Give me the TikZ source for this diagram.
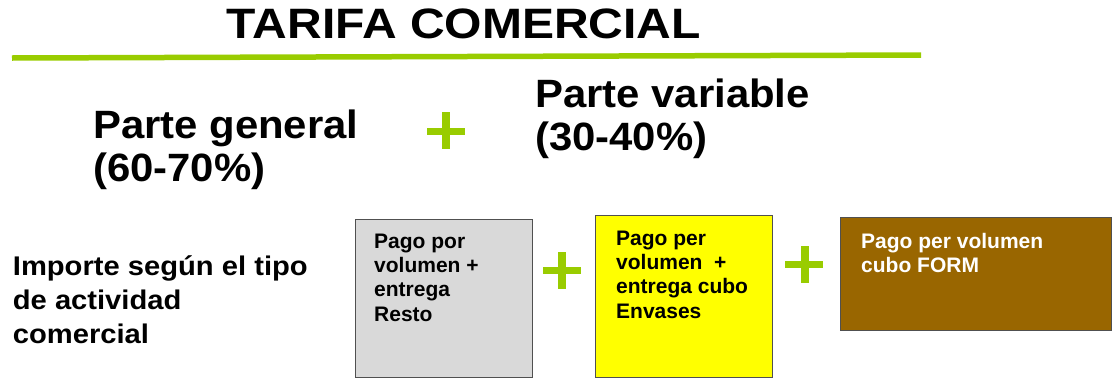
\documentclass[tikz,border=0pt]{standalone}
\usepackage{fontspec}
\setmainfont{Liberation Sans}
\newfontfamily\titlefont[FakeStretch=1.13]{Liberation Sans}
\newfontfamily\bigfont[FakeStretch=1.06]{Liberation Sans}
\newfontfamily\midfont[FakeStretch=1.08]{Liberation Sans}
\definecolor{lime}{RGB}{153,204,0}
\definecolor{boxgray}{RGB}{217,217,217}
\definecolor{boxyellow}{RGB}{255,255,0}
\definecolor{boxbrown}{RGB}{153,102,0}
\definecolor{edge}{RGB}{80,80,80}
\tikzset{
  txt/.style={inner sep=0pt, anchor=base west, align=left},
  titletxt/.style={txt, font=\titlefont\bfseries\fontsize{42.5}{46}\selectfont},
  bigtxt/.style={txt, font=\bigfont\bfseries\fontsize{39.5}{43}\selectfont},
  midtxt/.style={txt, font=\midfont\bfseries\fontsize{27}{34}\selectfont},
  boxtxt/.style={txt, font=\bfseries\fontsize{21}{24.3}\selectfont},
  card/.style={draw=edge, line width=1pt, anchor=north west, inner sep=0pt},
  plusbar/.style={fill=lime, draw=none},
}
\begin{document}
\begin{tikzpicture}[x=1pt,y=-1pt]
\useasboundingbox (0,0) rectangle (1114,378);
% title
\node[titletxt] (title) at (226.7,38.3) {TARIFA COMERCIAL};
\coordinate (lineL) at (12,58);
\coordinate (lineR) at (921,55);
\draw[lime, line width=5.5pt] (lineL) -- (lineR);
% headings (anchor = baseline of the last line)
\node[bigtxt] (general) at (93,181) {Parte general\\(60-70\%)};
\node[bigtxt] (variable) at (535,150) {Parte variable\\(30-40\%)};
% plus 1
\fill[plusbar] (427,127.5) rectangle (465,134.5);
\fill[plusbar] (442,112) rectangle (450,149);
% left text
\node[midtxt] (importe) at (12.7,343) {Importe según el tipo\\de actividad\\comercial};
% boxes
\node[card, fill=boxgray, minimum width=177pt, minimum height=158pt] (resto) at (355,219) {};
\node[card, fill=boxyellow, minimum width=177pt, minimum height=162pt] (envases) at (595,215) {};
\node[card, fill=boxbrown, minimum width=271pt, minimum height=113pt] (form) at (840,217) {};
\node[boxtxt] (restotxt) at (374,321) {Pago por\\volumen +\\entrega\\Resto};
\node[boxtxt] (envtxt) at (616,318) {Pago per\\volumen~~+\\entrega cubo\\Envases};
\node[boxtxt, text=white] (formtxt) at (861,272.3) {Pago per volumen\\cubo FORM};
% plus 2
\fill[plusbar] (543,267) rectangle (581,274);
\fill[plusbar] (558,252) rectangle (566,289);
% plus 3
\fill[plusbar] (785,261) rectangle (823,268);
\fill[plusbar] (801,246) rectangle (808.5,283);
\end{tikzpicture}
\end{document}
